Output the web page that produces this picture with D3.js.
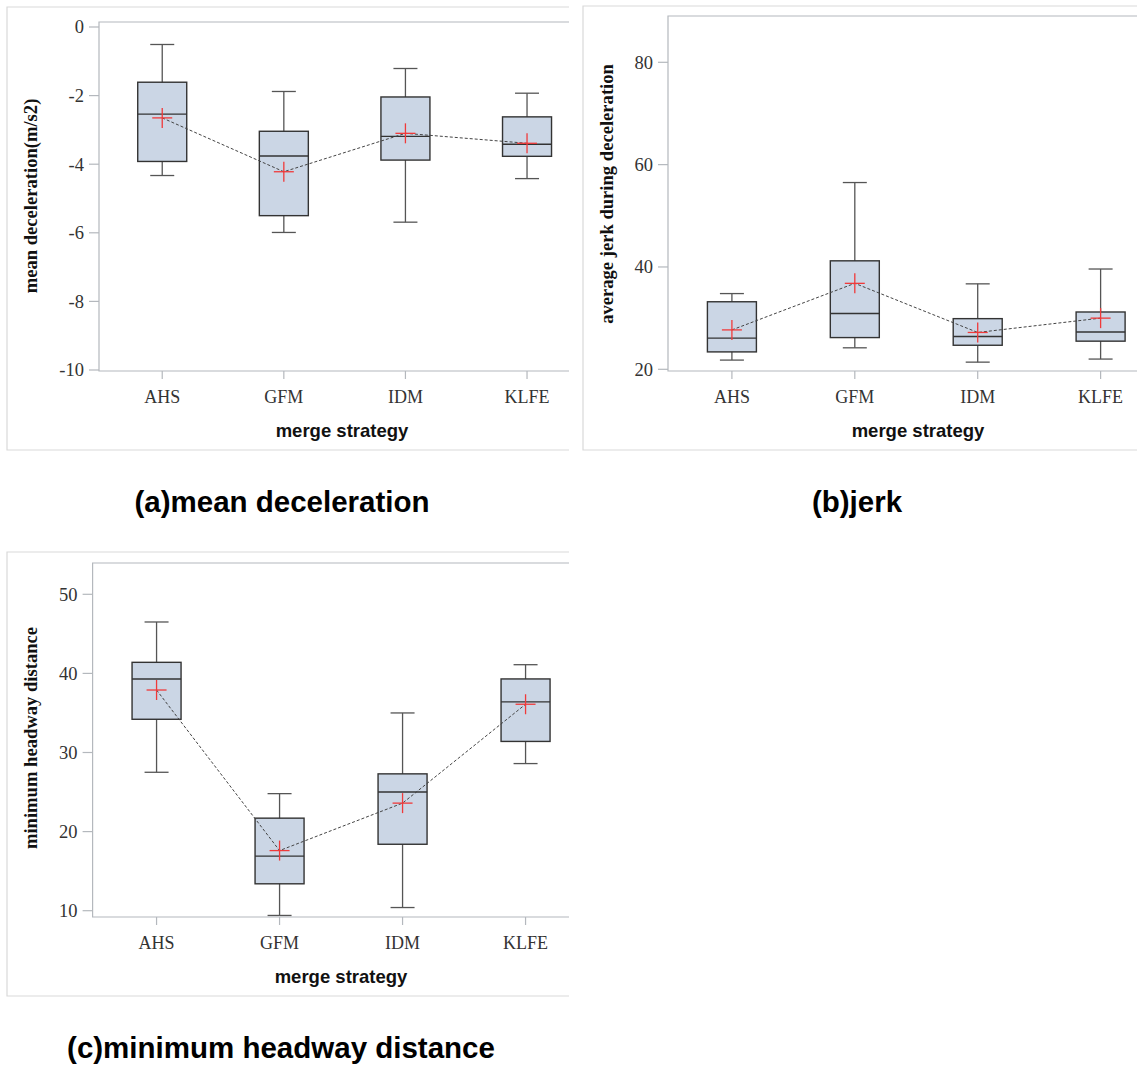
<!DOCTYPE html>
<html>
<head>
<meta charset="utf-8">
<script src="https://cdn.jsdelivr.net/npm/d3@7"></script>
<style>
  body { margin: 0; background: #fff; }
  svg { display: block; }
</style>
</head>
<body>
<div id="chart"></div>
<script>
// box plots of the three merge metrics

const categories = ["AHS", "GFM", "IDM", "KLFE"];

// (a) mean deceleration
const decelLow    = [-4.33, -5.99, -5.69, -4.42];
const decelQ1     = [-3.92, -5.50, -3.88, -3.77];
const decelMedian = [-2.54, -3.76, -3.19, -3.42];
const decelQ3     = [-1.61, -3.04, -2.04, -2.62];
const decelHigh   = [-0.51, -1.88, -1.21, -1.93];
const decelMean   = [-2.65, -4.22, -3.10, -3.39];
const decelTicks  = [0, -2, -4, -6, -8, -10];

// (b) jerk
const jerkLow    = [21.8, 24.2, 21.4, 22.0];
const jerkQ1     = [23.4, 26.2, 24.7, 25.5];
const jerkMedian = [26.1, 30.9, 26.4, 27.3];
const jerkQ3     = [33.2, 41.2, 29.9, 31.2];
const jerkHigh   = [34.8, 56.5, 36.7, 39.6];
const jerkMean   = [27.7, 36.8, 27.2, 30.0];
const jerkTicks  = [20, 40, 60, 80];

// (c) minimum headway distance
const headLow    = [27.5, 9.4, 10.4, 28.6];
const headQ1     = [34.2, 13.4, 18.4, 31.4];
const headMedian = [39.3, 16.9, 25.0, 36.4];
const headQ3     = [41.4, 21.7, 27.3, 39.3];
const headHigh   = [46.5, 24.8, 35.0, 41.1];
const headMean   = [37.9, 17.6, 23.6, 36.1];
const headTicks  = [10, 20, 30, 40, 50];

const W = 1137, H = 1066;
const serif = "'Liberation Serif', 'Times New Roman', serif";
const sans = "'Liberation Sans', Arial, sans-serif";

const svg = d3.select("#chart").append("svg")
    .attr("width", W)
    .attr("height", H);

function drawPanel(p) {
    const rows = categories.map((c, i) => ({
        cat: c,
        low: p.low[i], q1: p.q1[i], med: p.med[i],
        q3: p.q3[i], high: p.high[i], mean: p.mean[i]
    }));

    const clipId = "clip-" + p.id;
    svg.append("clipPath").attr("id", clipId)
        .append("rect")
        .attr("x", p.frame.x0 - 2).attr("y", p.frame.y0 - 2)
        .attr("width", p.frame.x1 - p.frame.x0 + 2)
        .attr("height", p.frame.y1 - p.frame.y0 + 4);

    const g = svg.append("g").attr("clip-path", `url(#${clipId})`);

    // outer frame (right side is cut off in the source figure)
    g.append("path")
        .attr("d", `M${p.frame.x1},${p.frame.y0}H${p.frame.x0}V${p.frame.y1}H${p.frame.x1}`)
        .attr("fill", "none")
        .attr("stroke", "#d9d9d9")
        .attr("stroke-width", 1.2);

    const x = d3.scalePoint()
        .domain(categories)
        .range([p.axisX, p.axisX + p.step * (3 + 2 * 0.52)])
        .padding(0.52);

    const y = d3.scaleLinear()
        .domain(p.domain)
        .range(p.range);

    // plot area: top border, left axis, bottom axis
    g.append("path")
        .attr("d", `M${p.frame.x1},${p.plotTop}H${p.axisX}V${p.plotBottom}H${p.frame.x1}`)
        .attr("fill", "none")
        .attr("stroke", "#b4b8bd")
        .attr("stroke-width", 1.2);

    // y ticks
    const yt = g.append("g");
    yt.selectAll("line").data(p.ticks).join("line")
        .attr("x1", p.axisX - 10).attr("x2", p.axisX)
        .attr("y1", d => y(d)).attr("y2", d => y(d))
        .attr("stroke", "#b4b8bd").attr("stroke-width", 1.2);
    yt.selectAll("text").data(p.ticks).join("text")
        .attr("x", p.axisX - 15)
        .attr("y", d => y(d))
        .attr("dy", "0.35em")
        .attr("text-anchor", "end")
        .attr("font-family", serif)
        .attr("font-size", 18.5)
        .attr("fill", "#333")
        .text(d => d);

    // x ticks
    const xt = g.append("g");
    xt.selectAll("line").data(categories).join("line")
        .attr("x1", d => x(d)).attr("x2", d => x(d))
        .attr("y1", p.plotBottom).attr("y2", p.plotBottom + 8)
        .attr("stroke", "#b4b8bd").attr("stroke-width", 1.2);
    xt.selectAll("text").data(categories).join("text")
        .attr("x", d => x(d))
        .attr("y", p.plotBottom + 26)
        .attr("dy", "0.35em")
        .attr("text-anchor", "middle")
        .attr("font-family", serif)
        .attr("font-size", 18)
        .attr("fill", "#333")
        .text(d => d);

    // axis titles
    g.append("text")
        .attr("x", p.xTitleX)
        .attr("y", p.plotBottom + 60)
        .attr("dy", "0.35em")
        .attr("text-anchor", "middle")
        .attr("font-family", sans)
        .attr("font-weight", "bold")
        .attr("font-size", 18.5)
        .attr("fill", "#111")
        .text("merge strategy");

    g.append("text")
        .attr("transform", `translate(${p.yTitleX},${p.yTitleY}) rotate(-90)`)
        .attr("dy", "0.35em")
        .attr("text-anchor", "middle")
        .attr("font-family", serif)
        .attr("font-weight", "bold")
        .attr("font-size", 18.6)
        .attr("fill", "#111")
        .text(p.yTitle);

    const boxW = 49, capW = 24;

    // whiskers
    const box = g.selectAll(".box").data(rows).join("g").attr("class", "box");
    box.append("line")
        .attr("x1", d => x(d.cat)).attr("x2", d => x(d.cat))
        .attr("y1", d => y(d.high)).attr("y2", d => y(d.low))
        .attr("stroke", "#555").attr("stroke-width", 1.3);
    box.append("line")
        .attr("x1", d => x(d.cat) - capW / 2).attr("x2", d => x(d.cat) + capW / 2)
        .attr("y1", d => y(d.high)).attr("y2", d => y(d.high))
        .attr("stroke", "#555").attr("stroke-width", 1.3);
    box.append("line")
        .attr("x1", d => x(d.cat) - capW / 2).attr("x2", d => x(d.cat) + capW / 2)
        .attr("y1", d => y(d.low)).attr("y2", d => y(d.low))
        .attr("stroke", "#555").attr("stroke-width", 1.3);

    // boxes
    box.append("rect")
        .attr("x", d => x(d.cat) - boxW / 2)
        .attr("y", d => y(d.q3))
        .attr("width", boxW)
        .attr("height", d => y(d.q1) - y(d.q3))
        .attr("fill", "#cbd6e5")
        .attr("stroke", "#333")
        .attr("stroke-width", 1.4);
    box.append("line")
        .attr("x1", d => x(d.cat) - boxW / 2).attr("x2", d => x(d.cat) + boxW / 2)
        .attr("y1", d => y(d.med)).attr("y2", d => y(d.med))
        .attr("stroke", "#333").attr("stroke-width", 1.4);

    // dashed line through the means
    g.append("path")
        .datum(rows)
        .attr("d", d3.line().x(d => x(d.cat)).y(d => y(d.mean)))
        .attr("fill", "none")
        .attr("stroke", "#444")
        .attr("stroke-width", 1)
        .attr("stroke-dasharray", "3,2");

    // mean markers
    const cross = g.selectAll(".mean").data(rows).join("g").attr("class", "mean");
    cross.append("line")
        .attr("x1", d => x(d.cat) - 10).attr("x2", d => x(d.cat) + 10)
        .attr("y1", d => y(d.mean)).attr("y2", d => y(d.mean))
        .attr("stroke", "#f03a3a").attr("stroke-width", 1.3);
    cross.append("line")
        .attr("x1", d => x(d.cat)).attr("x2", d => x(d.cat))
        .attr("y1", d => y(d.mean) - 10).attr("y2", d => y(d.mean) + 10)
        .attr("stroke", "#f03a3a").attr("stroke-width", 1.3);

    // caption below the panel
    svg.append("text")
        .attr("x", p.captionX)
        .attr("y", p.captionY)
        .attr("dy", "0.35em")
        .attr("text-anchor", "middle")
        .attr("font-family", sans)
        .attr("font-weight", "bold")
        .attr("font-size", 29.5)
        .attr("fill", "#000")
        .text(p.caption);
}

drawPanel({
    id: "a",
    low: decelLow, q1: decelQ1, med: decelMedian, q3: decelQ3, high: decelHigh, mean: decelMean,
    ticks: decelTicks, domain: [-10, 0], range: [370, 27],
    frame: { x0: 7, x1: 569, y0: 7, y1: 450 },
    axisX: 99, step: 121.6, plotTop: 22, plotBottom: 371,
    xTitleX: 342, yTitle: "mean deceleration(m/s2)", yTitleX: 30, yTitleY: 196,
    caption: "(a)mean deceleration", captionX: 282, captionY: 502
});

drawPanel({
    id: "b",
    low: jerkLow, q1: jerkQ1, med: jerkMedian, q3: jerkQ3, high: jerkHigh, mean: jerkMean,
    ticks: jerkTicks, domain: [20, 80], range: [369.3, 62.3],
    frame: { x0: 583, x1: 1137, y0: 6, y1: 450 },
    axisX: 668, step: 122.9, plotTop: 16, plotBottom: 371,
    xTitleX: 918, yTitle: "average jerk during deceleration", yTitleX: 606, yTitleY: 194,
    caption: "(b)jerk", captionX: 857, captionY: 502
});

drawPanel({
    id: "c",
    low: headLow, q1: headQ1, med: headMedian, q3: headQ3, high: headHigh, mean: headMean,
    ticks: headTicks, domain: [10, 50], range: [910.7, 594.3],
    frame: { x0: 7, x1: 569, y0: 552, y1: 996 },
    axisX: 92.6, step: 123, plotTop: 563, plotBottom: 917,
    xTitleX: 341, yTitle: "minimum headway distance", yTitleX: 30, yTitleY: 738,
    caption: "(c)minimum headway distance", captionX: 281, captionY: 1048
});
</script>
</body>
</html>
